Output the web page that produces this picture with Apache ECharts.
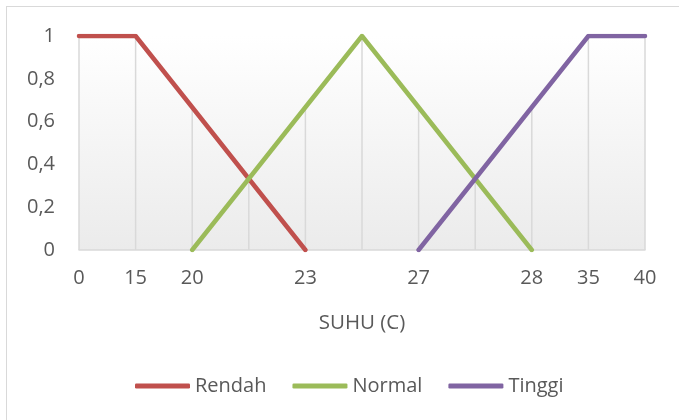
<!DOCTYPE html>
<html>
<head>
<meta charset="utf-8">
<script src="https://cdn.jsdelivr.net/npm/echarts@6/dist/echarts.min.js"></script>
<style>
html,body{margin:0;padding:0;background:#fff;}
#frame{position:absolute;left:6px;top:6px;width:700px;height:440px;border:1px solid #d9d9d9;box-sizing:border-box;}
#chart{position:absolute;left:0;top:0;width:679px;height:420px;}
</style>
</head>
<body>
<div id="frame"></div>
<div id="chart"></div>
<script>
var categories = ['0','15','20','','23','','27','','28','35','40'];
var rendah = [1, 1, 0.667, 0.333, 0, null, null, null, null, null, null];
var normal = [null, null, 0, 0.333, 0.667, 1, 0.667, 0.333, 0, null, null];
var tinggi = [null, null, null, null, null, null, 0, 0.333, 0.667, 1, 1];
var yTicks = [0, 0.2, 0.4, 0.6, 0.8, 1];

var dropLines = categories.map(function (c, i) {
  var vals = [rendah[i], normal[i], tinggi[i]].filter(function (v) { return v !== null; });
  return Math.max.apply(null, vals);
});

var font = 'Open Sans';
var txt = '#595959';
var chart = echarts.init(document.getElementById('chart'), null, {renderer: 'canvas'});
function lineSeries(name, data, color) {
  return {
    name: name, type: 'line', data: data, showSymbol: false, symbol: 'none',
    lineStyle: {color: color, width: 4.5, cap: 'round', join: 'round'},
    itemStyle: {color: color}, z: 5, connectNulls: false, animation: false
  };
}
chart.setOption({
  animation: false,
  grid: {
    left: 79, right: 34, top: 36, bottom: 170, show: true, borderWidth: 0,
    backgroundColor: {type: 'linear', x: 0, y: 0, x2: 0, y2: 1,
      colorStops: [{offset: 0, color: '#ffffff'}, {offset: 1, color: '#ebebeb'}]}
  },
  legend: {
    top: 376, left: 135, itemWidth: 55, itemHeight: 5, itemGap: 26,
    icon: 'roundRect', padding: 0,
    textStyle: {fontFamily: font, fontSize: 20, color: txt},
    data: ['Rendah', 'Normal', 'Tinggi']
  },
  xAxis: {
    type: 'category', data: categories, boundaryGap: false,
    name: 'SUHU (C)', nameLocation: 'middle', nameGap: 63,
    nameTextStyle: {fontFamily: font, fontSize: 20.5, color: txt},
    axisLine: {lineStyle: {color: '#d9d9d9', width: 1.5}},
    axisTick: {show: false},
    axisLabel: {interval: 0, fontFamily: font, fontSize: 20, color: txt, margin: 18},
    splitLine: {show: false}
  },
  yAxis: {
    type: 'value', min: 0, max: 1, interval: 0.2,
    axisLine: {show: false}, axisTick: {show: false}, splitLine: {show: false},
    axisLabel: {fontFamily: font, fontSize: 20, color: txt, margin: 24,
      formatter: function (v) { return String(Math.round(v * 10) / 10).replace('.', ','); }}
  },
  series: [
    {
      name: 'drop', type: 'bar', data: dropLines, barWidth: 1.5, z: 1,
      itemStyle: {color: '#d9d9d9'}, silent: true, legendHoverLink: false, animation: false
    },
    lineSeries('Rendah', rendah, '#C0504D'),
    lineSeries('Normal', normal, '#9BBB59'),
    lineSeries('Tinggi', tinggi, '#8064A2')
  ]
});
</script>
</body>
</html>
